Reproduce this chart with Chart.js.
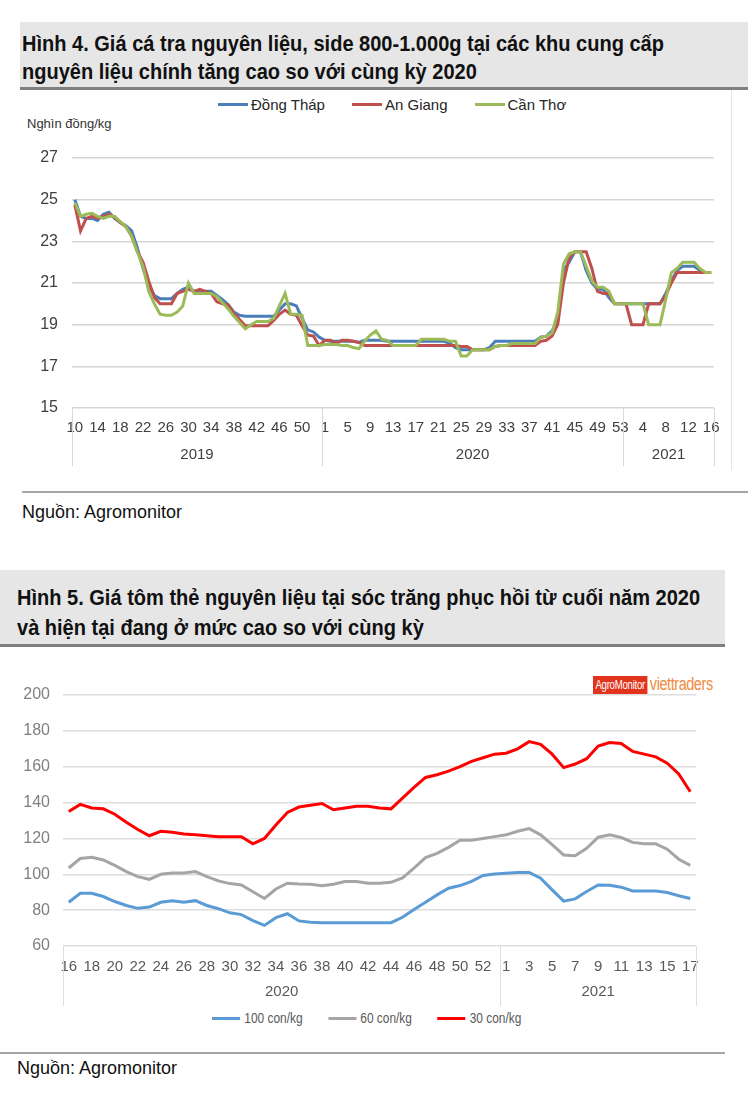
<!DOCTYPE html>
<html lang="vi">
<head>
<meta charset="utf-8">
<script src="https://cdn.jsdelivr.net/npm/chart.js@4.4.1/dist/chart.umd.min.js"></script>
<style>
  body { margin: 0; width: 748px; height: 1095px; background: #fff; position: relative; overflow: hidden;
         font-family: "Liberation Sans", Arial, sans-serif; color: #111; }
  .title { position: absolute; background: #e6e6e6; border-bottom: 3px solid #7f7f7f; box-sizing: border-box; }
  .title div { font-weight: bold; font-size: 22px; white-space: nowrap; transform: scaleX(0.91); transform-origin: left center; }
  .src { position: absolute; font-size: 18px; }
  .rule { position: absolute; height: 2px; background: #a6a6a6; }
  .legend { position: absolute; display: flex; font-size: 15px; color: #262626; white-space: nowrap; }
  .legend span { display: flex; align-items: center; }
  .legend i { display: inline-block; width: 30px; height: 3px; margin-right: 3px; }
  canvas { position: absolute; }
</style>
</head>
<body>

<div class="title" style="left:20px; top:22px; width:728px; height:68px; padding:8px 0 0 2px; line-height:28px;">
  <div>Hình 4. Giá cá tra nguyên liệu, side 800-1.000g tại các khu cung cấp</div>
  <div>nguyên liệu chính tăng cao so với cùng kỳ 2020</div>
</div>
<div id="legend1" class="legend" style="left:218px; top:96px; gap:27px;"></div>
<div style="position:absolute; left:27px; top:116px; font-size:13px; color:#333;">Nghìn đồng/kg</div>
<div style="position:absolute; left:731px; top:90px; width:1px; height:380px; background:#e3e3e3;"></div>
<canvas id="chart1" width="710" height="380" style="left:22px; top:90px;"></canvas>
<div class="rule" style="left:22px; top:491px; width:726px;"></div>
<div class="src" style="left:22px; top:502px;">Nguồn: Agromonitor</div>

<div class="title" style="left:0; top:570px; width:725px; height:77px; padding:13px 0 0 17px; line-height:30px;">
  <div>Hình 5. Giá tôm thẻ nguyên liệu tại sóc trăng phục hồi từ cuối năm 2020</div>
  <div>và hiện tại đang ở mức cao so với cùng kỳ</div>
</div>
<div style="position:absolute; left:593px; top:674px; display:flex; align-items:center; white-space:nowrap; transform:scaleX(0.8); transform-origin:left center;">
  <span style="background:#e2331d; color:#fff; font-size:12px; padding:2px 3px; letter-spacing:-0.3px;">AgroMonitor</span>
  <span style="color:#f08a3c; font-size:18px; margin-left:3px; letter-spacing:-0.5px;">viettraders</span>
</div>
<canvas id="chart2" width="725" height="362" style="left:0; top:648px;"></canvas>
<div id="legend2" class="legend l2" style="left:212px; top:1010px; gap:30px; color:#595959; font-size:14px; transform:scaleX(0.85); transform-origin:left center;"></div>
<style>.l2 i { width: 33px !important; margin-right: 5px !important; }</style>
<div class="rule" style="left:0; top:1052px; width:725px;"></div>
<div class="src" style="left:17px; top:1058px;">Nguồn: Agromonitor</div>

<script>
// ---- Hình 4: giá cá tra (nghìn đồng/kg), theo tuần ----
const tuan2019 = [10,11,12,13,14,15,16,17,18,19,20,21,22,23,24,25,26,27,28,29,30,31,32,33,34,35,36,37,38,39,40,41,42,43,44,45,46,47,48,49,50,51,52,53];
const tuan2020 = [1,2,3,4,5,6,7,8,9,10,11,12,13,14,15,16,17,18,19,20,21,22,23,24,25,26,27,28,29,30,31,32,33,34,35,36,37,38,39,40,41,42,43,44,45,46,47,48,49,50,51,52,53];
const tuan2021 = [1,2,3,4,5,6,7,8,9,10,11,12,13,14,15,16];

const dongThap = [
  25.0, 24.2, 24.1, 24.1, 24.0, 24.3, 24.4, 24.1, 23.9, 23.75,
  23.5, 22.7, 21.7, 20.9, 20.4, 20.25, 20.25, 20.25, 20.5, 20.7,
  20.8, 20.6, 20.6, 20.6, 20.6, 20.4, 20.2, 19.95, 19.6, 19.45,
  19.4, 19.4, 19.4, 19.4, 19.4, 19.4, 19.7, 20.0, 20.0, 19.9,
  19.3, 18.75, 18.65, 18.4, 18.25, 18.2, 18.2, 18.2, 18.2, 18.2,
  18.15, 18.25, 18.25, 18.25, 18.25, 18.2, 18.2, 18.2, 18.2, 18.2,
  18.2, 18.2, 18.2, 18.2, 18.2, 18.2, 18.1, 17.9, 17.8, 17.8,
  17.8, 17.8, 17.8, 17.9, 18.2, 18.2, 18.2, 18.2, 18.2, 18.2,
  18.2, 18.2, 18.4, 18.45, 18.7, 19.2, 21.6, 22.0, 22.5, 22.5,
  21.6, 21.0, 20.7, 20.7, 20.3, 20.0, 20.0, 20.0, 20.0, 20.0,
  20.0, 20.0, 20.0, 20.0, 20.5, 21.1, 21.6, 21.8, 21.8, 21.8,
  21.6, 21.5, 21.5
];
const anGiang = [
  24.75, 23.5, 24.1, 24.2, 24.1, 24.2, 24.3, 24.15, 23.9, 23.7,
  23.25, 22.5, 22.0, 21.1, 20.3, 20.0, 20.0, 20.0, 20.5, 20.6,
  20.7, 20.6, 20.7, 20.6, 20.5, 20.1, 20.0, 19.95, 19.55, 19.25,
  18.95, 18.95, 18.95, 18.95, 18.95, 19.2, 19.5, 19.7, 19.5, 19.45,
  18.95, 18.5, 18.45, 18.0, 18.25, 18.25, 18.1, 18.25, 18.25, 18.2,
  18.15, 18.0, 18.0, 18.0, 18.0, 18.0, 18.0, 18.0, 18.0, 18.0,
  18.0, 18.0, 18.0, 18.0, 18.0, 18.0, 18.0, 18.0, 17.95, 17.95,
  17.8, 17.8, 17.8, 17.8, 17.95, 18.0, 18.0, 18.0, 18.0, 18.0,
  18.0, 18.0, 18.2, 18.25, 18.45, 19.0, 21.0, 22.2, 22.5, 22.5,
  22.5, 21.7, 20.6, 20.5, 20.5, 20.0, 20.0, 20.0, 19.0, 19.0,
  19.0, 20.0, 20.0, 20.0, 20.4, 21.0, 21.5, 21.5, 21.5, 21.5,
  21.5, 21.5, 21.5
];
const canTho = [
  24.85, 24.2, 24.3, 24.35, 24.2, 24.1, 24.2, 24.2, 23.95, 23.7,
  23.25, 22.5, 21.8, 20.6, 20.0, 19.5, 19.45, 19.45, 19.6, 19.9,
  21.0, 20.5, 20.5, 20.5, 20.5, 20.35, 20.05, 19.75, 19.4, 19.1,
  18.8, 19.0, 19.15, 19.15, 19.15, 19.3, 19.9, 20.5, 19.5, 19.5,
  19.45, 18.0, 18.0, 18.0, 18.05, 18.05, 18.05, 18.0, 18.0, 17.9,
  17.85, 18.2, 18.5, 18.7, 18.3, 18.25, 18.0, 18.0, 18.0, 18.0,
  18.0, 18.3, 18.3, 18.3, 18.3, 18.3, 18.2, 18.2, 17.5, 17.5,
  17.8, 17.8, 17.8, 17.8, 17.95, 18.0, 18.0, 18.1, 18.1, 18.1,
  18.1, 18.1, 18.4, 18.45, 18.6, 19.6, 21.9, 22.4, 22.5, 22.5,
  21.8, 21.1, 20.8, 20.8, 20.6, 20.0, 20.0, 20.0, 20.0, 20.0,
  20.0, 19.0, 19.0, 19.0, 20.2, 21.5, 21.7, 22.0, 22.0, 22.0,
  21.7, 21.5, 21.5
];

// ---- Hình 5: giá tôm thẻ Sóc Trăng, theo tuần ----
const tuanTom2020 = [16,17,18,19,20,21,22,23,24,25,26,27,28,29,30,31,32,33,34,35,36,37,38,39,40,41,42,43,44,45,46,47,48,49,50,51,52,53];
const tuanTom2021 = [1,2,3,4,5,6,7,8,9,10,11,12,13,14,15,16,17];

const tom100 = [
  84.4, 89.4, 89.4, 87.6, 84.8, 82.6, 81, 81.7, 84.4, 85.3,
  84.4, 85.3, 82.6, 80.8, 78.5, 77.5, 74.2, 71.5, 75.8, 78,
  74, 73.2, 73, 73, 73, 73, 73, 73, 73, 76,
  80.4, 84.4, 88.5, 92.2, 93.7, 96, 99.3, 100.2, 100.6, 101,
  101, 97.8, 91.3, 85, 86.3, 90.4, 94, 93.9, 92.8, 90.7,
  90.7, 90.7, 89.8, 88, 86.5
];
const tom60 = [
  103.5, 108.8, 109.5, 108, 105, 101.5, 98.7, 97.2, 100, 100.7,
  100.7, 101.5, 98.7, 96.3, 94.8, 94, 90.3, 86.5, 91.8, 95,
  94.6, 94.4, 93.6, 94.4, 96, 96, 95, 95, 95.5, 98,
  103.4, 109.3, 111.7, 115, 119, 119, 120, 121, 122, 124,
  125.5, 122, 116.5, 110.8, 110.3, 114.5, 120.7, 122, 120.5, 117.8,
  117, 117, 114, 108.4, 105
];
const tom30 = [
  135, 139, 137, 136.5, 133.5, 129, 125, 121.5, 124, 123.5,
  122.5, 122, 121.5, 121, 121, 121, 117, 120, 127.5, 134.5,
  137.5, 138.5, 139.5, 136, 137, 138, 138, 137, 136.5, 142.5,
  148.5, 154, 155.5, 157.5, 160, 163, 165, 167, 167.5, 170,
  174, 172.5, 167, 159.5, 161.5, 164.5, 171.5, 173.5, 173, 168.5,
  167, 165.5, 162, 156, 146
];

const FONT = '"Liberation Sans", Arial, sans-serif';

// nhãn năm + vạch phân nhóm dưới trục x (kiểu trục nhiều cấp của Excel)
const yearRowPlugin = {
    id: 'yearRow',
    afterDraw(chart, args, opts) {
        const { ctx, chartArea, scales: { x } } = chart;
        const half = (x.getPixelForValue(1) - x.getPixelForValue(0)) / 2;
        const edge = i => x.getPixelForValue(i) - half;
        ctx.save();
        ctx.strokeStyle = opts.lineColor;
        ctx.lineWidth = 1;
        ctx.fillStyle = opts.color;
        ctx.font = opts.font;
        ctx.textAlign = 'center';
        ctx.textBaseline = 'middle';
        let start = 0;
        const vline = px => {
            ctx.beginPath();
            ctx.moveTo(Math.round(px) + 0.5, chartArea.bottom);
            ctx.lineTo(Math.round(px) + 0.5, chartArea.bottom + opts.depth);
            ctx.stroke();
        };
        vline(edge(0));
        opts.groups.forEach(g => {
            const l = edge(start), r = edge(start + g.n);
            vline(r);
            ctx.fillText(g.year, (l + r) / 2, chartArea.bottom + opts.offset);
            start += g.n;
        });
        ctx.restore();
    }
};

function buildLegend(id, items) {
    const box = document.getElementById(id);
    items.forEach(it => {
        const s = document.createElement('span');
        s.innerHTML = `<i style="background:${it.color}"></i>${it.label}`;
        box.appendChild(s);
    });
}

function makeChart(id, cfg) {
    return new Chart(document.getElementById(id), {
        type: 'line',
        data: {
            labels: cfg.labels,
            datasets: cfg.series.map((s, k) => ({
                label: s.label,
                data: s.data,
                borderColor: s.color,
                backgroundColor: s.color,
                borderWidth: 3,
                pointRadius: 0,
                tension: 0,
                order: cfg.series.length - k
            }))
        },
        options: {
            responsive: false,
            animation: false,
            events: [],
            layout: { padding: cfg.padding },
            plugins: {
                legend: { display: false },
                tooltip: { enabled: false },
                yearRow: cfg.yearRow
            },
            scales: {
                x: {
                    offset: true,
                    grid: { display: false, drawTicks: false },
                    border: { display: false },
                    afterFit: s => { s.height = cfg.xHeight; },
                    ticks: {
                        autoSkip: false,
                        maxRotation: 0,
                        padding: cfg.xPad,
                        color: cfg.tickColor,
                        font: { family: FONT, size: cfg.tickSize },
                        callback: function (v, i) { return i % cfg.every === 0 ? this.getLabelForValue(v) : null; }
                    }
                },
                y: {
                    min: cfg.yMin,
                    max: cfg.yMax,
                    grid: { color: cfg.gridColor, lineWidth: cfg.gridWidth, drawTicks: false },
                    border: { display: false },
                    afterFit: s => { s.width = cfg.yWidth; },
                    ticks: {
                        stepSize: cfg.yStep,
                        padding: cfg.yPad,
                        color: cfg.yTickColor,
                        font: { family: FONT, size: cfg.tickSize + 1 }
                    }
                }
            }
        },
        plugins: [yearRowPlugin]
    });
}

const series1 = [
    { label: 'Đồng Tháp', data: dongThap, color: '#4a7ebb' },
    { label: 'An Giang', data: anGiang, color: '#c0504d' },
    { label: 'Cần Thơ', data: canTho, color: '#9bbb59' }
];
buildLegend('legend1', series1);
makeChart('chart1', {
    labels: [...tuan2019, ...tuan2020, ...tuan2021],
    series: series1,
    padding: { top: 68, right: 18, bottom: 0, left: 0 },
    xHeight: 62, xPad: 11, yWidth: 50, yPad: 14,
    yMin: 15, yMax: 27, yStep: 2, every: 4,
    tickSize: 15, tickColor: '#404040', yTickColor: '#404040',
    gridColor: '#d6d6d6', gridWidth: 1.5,
    yearRow: {
        groups: [{ year: '2019', n: tuan2019.length }, { year: '2020', n: tuan2020.length }, { year: '2021', n: tuan2021.length }],
        offset: 47, depth: 58, color: '#404040', lineColor: '#d9d9d9', font: '15px ' + FONT
    }
});

const series2 = [
    { label: '100 con/kg', data: tom100, color: '#5b9bd5' },
    { label: '60 con/kg', data: tom60, color: '#a5a5a5' },
    { label: '30 con/kg', data: tom30, color: '#ff0000' }
];
buildLegend('legend2', series2);
makeChart('chart2', {
    labels: [...tuanTom2020, ...tuanTom2021],
    series: series2,
    padding: { top: 47, right: 29, bottom: 0, left: 0 },
    xHeight: 64, xPad: 12, yWidth: 63, yPad: 13,
    yMin: 60, yMax: 200, yStep: 20, every: 2,
    tickSize: 15, tickColor: '#595959', yTickColor: '#808080',
    gridColor: '#dedede', gridWidth: 1.5,
    yearRow: {
        groups: [{ year: '2020', n: tuanTom2020.length }, { year: '2021', n: tuanTom2021.length }],
        offset: 46, depth: 60, color: '#595959', lineColor: '#dedede', font: '15px ' + FONT
    }
});
</script>
</body>
</html>
